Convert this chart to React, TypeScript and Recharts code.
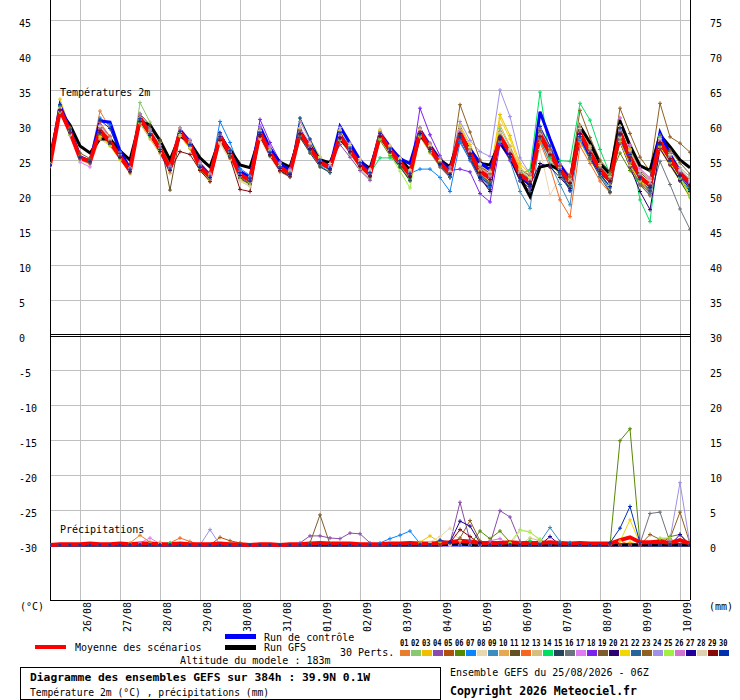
import { LineChart, Line, XAxis, YAxis, CartesianGrid, ReferenceLine } from "recharts"

// forecast steps (hours after 25/08 06Z)
const HOURS = [0, 6, 12, 18, 24, 30, 36, 42, 48, 54, 60, 66, 72, 78, 84, 90, 96, 102, 108, 114, 120, 126, 132, 138, 144, 150, 156, 162, 168, 174, 180, 186, 192, 198, 204, 210, 216, 222, 228, 234, 240, 246, 252, 258, 264, 270, 276, 282, 288, 294, 300, 306, 312, 318, 324, 330, 336, 342, 348, 354, 360, 366, 372, 378, 384]
const DATE_TICKS = [18, 42, 66, 90, 114, 138, 162, 186, 210, 234, 258, 282, 306, 330, 354, 378]
const DATES = ["26/08", "27/08", "28/08", "29/08", "30/08", "31/08", "01/09", "02/09", "03/09", "04/09", "05/09", "06/09", "07/09", "08/09", "09/09", "10/09"]
const LEFT_TICKS = [-30, -25, -20, -15, -10, -5, 0, 5, 10, 15, 20, 25, 30, 35, 40, 45]
const RIGHT_TICKS = [0, 5, 10, 15, 20, 25, 30, 35, 40, 45, 50, 55, 60, 65, 70, 75]
const GRID_VALUES = [-30, -25, -20, -15, -10, -5, 5, 10, 15, 20, 25, 30, 35, 40, 45]

const PERT_COLORS = ["#e87d2e", "#88c86e", "#f0c000", "#8a4caa", "#b0500a", "#568800", "#0a84ff", "#e8d8b0", "#3c8cc0", "#e8a850", "#645020", "#f8661e", "#d4c07c", "#00e060", "#24445c", "#6c747c", "#e07cf0", "#7c20f0", "#7c5c2c", "#2c0070", "#f0d800", "#28649c", "#906020", "#a090e8", "#a0f040", "#d474d0", "#200098", "#e0d0b0", "#880808", "#0030b0"]

// temperature 2m (°C)
const T_MEAN = [24.3, 32.2, 29.0, 25.3, 24.8, 29.2, 27.6, 25.5, 23.5, 31.0, 28.8, 26.6, 23.8, 29.0, 27.2, 24.0, 22.6, 28.4, 26.0, 22.9, 22.1, 28.9, 26.0, 23.9, 23.1, 28.9, 26.7, 24.7, 23.9, 28.4, 26.4, 24.3, 22.9, 28.6, 26.4, 24.7, 22.9, 29.0, 26.7, 24.6, 23.1, 28.9, 26.0, 23.4, 22.4, 28.4, 26.0, 22.9, 21.9, 28.6, 26.0, 23.6, 21.9, 28.9, 26.1, 23.6, 22.1, 28.9, 25.4, 22.6, 21.4, 27.6, 25.3, 23.1, 21.7]
const T_GFS = [25.4, 32.0, 30.0, 27.0, 26.0, 28.0, 28.0, 26.3, 25.0, 30.5, 30.0, 27.8, 25.0, 28.5, 27.5, 25.3, 24.0, 28.0, 26.5, 24.3, 23.9, 28.5, 26.5, 24.7, 24.0, 28.5, 27.0, 25.0, 24.6, 28.0, 26.5, 24.8, 23.8, 28.3, 26.5, 25.3, 23.5, 28.5, 27.0, 25.0, 24.0, 28.5, 26.5, 24.5, 24.3, 27.5, 25.5, 22.5, 19.8, 24.0, 24.3, 23.5, 22.0, 29.8, 27.5, 24.5, 23.0, 30.5, 27.1, 24.2, 23.5, 28.6, 26.9, 25.0, 23.9]
const T_CTRL = [24.4, 32.8, 29.4, 25.5, 24.8, 30.6, 30.4, 26.3, 23.8, 31.0, 28.9, 26.4, 23.6, 29.3, 27.5, 24.3, 22.8, 28.6, 26.2, 23.4, 22.5, 29.7, 26.7, 24.5, 23.5, 29.1, 26.9, 24.9, 24.0, 29.8, 27.4, 25.0, 23.4, 28.8, 26.9, 25.2, 24.5, 29.3, 27.0, 24.9, 23.6, 28.6, 26.5, 24.6, 23.6, 28.0, 25.5, 22.8, 21.5, 31.9, 28.0, 24.4, 22.0, 28.5, 25.7, 23.3, 22.0, 28.6, 25.2, 22.5, 21.5, 28.9, 25.8, 23.3, 21.4]

const T01 = [24.2, 32.5, 29.3, 25.6, 24.9, 32.0, 29.5, 26.0, 23.2, 31.5, 29.2, 26.8, 23.5, 29.6, 27.5, 24.3, 22.8, 28.0, 25.6, 22.5, 21.6, 29.3, 26.4, 24.1, 23.0, 29.4, 27.0, 24.9, 24.2, 28.8, 26.8, 24.5, 22.5, 28.0, 25.9, 24.2, 22.3, 29.5, 27.3, 25.1, 23.6, 29.6, 26.8, 24.0, 22.8, 27.6, 25.2, 22.1, 21.0, 27.9, 25.4, 22.8, 20.9, 29.6, 26.9, 24.4, 22.9, 28.2, 24.6, 21.8, 20.6, 26.8, 24.4, 22.0, 20.3]
const T02 = [24.4, 32.0, 28.7, 25.0, 24.6, 28.6, 27.0, 25.2, 23.4, 33.2, 30.4, 27.5, 24.2, 28.6, 26.8, 23.7, 22.3, 28.8, 26.4, 23.3, 22.6, 28.2, 25.5, 23.4, 22.5, 28.5, 26.3, 24.4, 23.5, 27.8, 25.9, 23.8, 22.3, 29.3, 27.0, 25.2, 23.5, 28.3, 26.1, 24.0, 22.5, 29.7, 26.9, 24.5, 23.3, 29.5, 26.9, 23.8, 22.7, 27.5, 25.1, 22.7, 21.0, 28.0, 25.3, 22.8, 21.3, 29.8, 26.5, 23.7, 22.5, 28.5, 26.1, 23.9, 22.6]
const T03 = [24.2, 33.7, 29.6, 25.5, 24.7, 29.8, 27.9, 25.6, 23.3, 30.5, 28.2, 26.0, 23.3, 29.3, 27.5, 24.4, 22.9, 28.7, 26.4, 23.1, 22.3, 29.5, 26.6, 24.4, 23.5, 28.2, 26.0, 24.1, 23.3, 28.9, 26.9, 24.8, 23.4, 28.9, 26.7, 25.0, 23.2, 28.4, 26.0, 24.0, 22.6, 30.0, 27.2, 24.3, 23.1, 31.5, 28.5, 24.5, 23.0, 29.6, 27.0, 24.4, 22.6, 27.6, 25.0, 22.7, 21.0, 29.8, 26.6, 23.6, 22.3, 26.5, 24.2, 22.0, 19.6]
const T04 = [24.5, 32.4, 28.8, 25.1, 24.6, 30.0, 28.4, 26.0, 23.9, 30.6, 28.5, 26.2, 23.6, 28.4, 26.7, 23.6, 22.3, 27.8, 25.5, 22.4, 21.5, 28.3, 25.6, 23.3, 22.6, 29.6, 27.4, 25.3, 24.4, 27.2, 25.4, 23.5, 22.1, 29.2, 27.0, 25.1, 23.4, 28.5, 26.2, 24.0, 22.5, 27.8, 24.9, 22.1, 21.1, 29.0, 26.5, 23.3, 22.5, 29.5, 26.9, 24.4, 22.8, 28.0, 25.3, 22.9, 21.2, 28.0, 24.5, 21.7, 20.2, 27.0, 24.5, 22.2, 20.6]
const T05 = [24.1, 32.1, 28.9, 25.4, 24.9, 28.8, 27.3, 25.4, 23.5, 30.6, 28.6, 26.7, 24.0, 29.5, 27.8, 24.6, 23.1, 28.6, 26.2, 23.3, 22.4, 28.5, 25.8, 23.5, 22.9, 29.3, 27.1, 25.0, 24.0, 28.1, 26.1, 24.0, 22.8, 28.3, 26.1, 24.3, 22.5, 29.6, 27.4, 25.3, 23.7, 28.5, 25.6, 22.9, 21.8, 27.8, 25.5, 22.4, 21.2, 29.0, 26.5, 24.1, 22.4, 29.4, 26.6, 24.0, 22.6, 27.6, 24.2, 21.4, 20.0, 28.2, 25.8, 23.6, 22.2]
const T06 = [24.3, 31.8, 28.7, 25.2, 24.6, 29.3, 27.7, 25.7, 23.7, 31.2, 29.0, 26.5, 23.6, 28.8, 27.0, 23.9, 22.3, 28.2, 25.9, 22.7, 21.9, 29.0, 26.2, 23.7, 22.8, 28.7, 26.5, 24.5, 23.6, 28.6, 26.5, 24.2, 22.7, 27.8, 25.6, 24.0, 22.0, 29.2, 26.9, 24.7, 23.4, 28.2, 25.3, 22.8, 21.7, 28.7, 26.4, 23.3, 22.3, 28.0, 25.5, 23.0, 21.0, 29.2, 26.5, 24.1, 22.6, 26.0, 23.5, 21.5, 20.5, 27.0, 24.8, 22.6, 21.2]
const T07 = [24.4, 32.8, 29.4, 25.4, 24.9, 31.0, 30.0, 26.2, 23.8, 30.8, 28.7, 26.3, 23.9, 29.2, 27.4, 24.3, 22.8, 30.5, 27.5, 23.8, 22.8, 29.1, 26.3, 24.1, 23.2, 28.6, 26.4, 24.2, 23.2, 29.0, 27.0, 24.8, 23.5, 28.7, 26.6, 24.8, 23.1, 23.7, 23.7, 22.5, 20.5, 27.5, 25.0, 22.6, 21.2, 28.8, 26.2, 23.2, 22.3, 28.3, 25.6, 23.2, 21.7, 27.8, 25.1, 22.9, 21.2, 28.5, 25.0, 22.0, 20.8, 28.0, 25.7, 23.4, 21.5]
const T08 = [24.2, 32.0, 28.8, 25.0, 24.3, 28.0, 27.0, 25.3, 23.0, 30.5, 28.3, 26.0, 23.2, 28.8, 27.1, 24.0, 22.3, 27.3, 25.0, 22.0, 21.2, 28.0, 25.4, 23.2, 22.6, 29.0, 26.9, 24.9, 24.0, 29.6, 27.4, 25.2, 23.7, 29.0, 26.7, 25.1, 23.2, 28.8, 26.6, 24.5, 23.0, 29.3, 26.7, 24.4, 23.2, 28.2, 25.8, 23.0, 22.0, 26.5, 20.0, 22.5, 21.5, 28.4, 25.6, 23.1, 21.4, 28.7, 25.2, 22.3, 21.2, 27.2, 24.9, 22.8, 21.4]
const T09 = [24.3, 32.3, 29.1, 25.3, 24.8, 29.4, 27.5, 25.5, 23.4, 31.3, 29.0, 26.8, 23.9, 29.1, 27.3, 24.1, 22.7, 28.3, 25.8, 22.7, 21.8, 29.2, 26.3, 24.2, 23.3, 28.4, 26.2, 24.3, 23.6, 28.5, 26.6, 24.4, 23.0, 28.2, 26.0, 24.5, 22.8, 29.3, 27.0, 24.9, 23.2, 29.0, 25.8, 22.7, 21.5, 27.5, 24.9, 20.5, 18.1, 28.0, 24.5, 21.5, 18.6, 28.6, 25.8, 23.2, 20.5, 28.0, 24.8, 21.7, 20.3, 27.3, 25.0, 22.5, 20.5]
const T10 = [24.3, 32.2, 28.9, 25.2, 24.4, 29.6, 27.8, 25.6, 23.6, 30.2, 28.0, 25.9, 23.1, 29.5, 27.6, 24.5, 23.0, 28.5, 26.1, 23.0, 22.2, 28.8, 25.9, 23.8, 23.0, 29.5, 27.3, 25.3, 24.5, 28.0, 26.0, 23.9, 22.6, 28.8, 26.6, 24.8, 23.1, 29.2, 27.0, 24.8, 23.1, 28.5, 25.6, 23.0, 22.0, 30.0, 27.0, 23.8, 22.8, 29.2, 26.6, 24.0, 22.4, 28.8, 26.0, 23.6, 22.0, 28.2, 24.9, 22.0, 20.9, 28.0, 25.6, 23.4, 21.9]
const T11 = [24.4, 32.0, 29.2, 25.5, 25.0, 28.7, 27.4, 25.5, 23.4, 31.6, 30.0, 27.9, 20.7, 28.5, 26.7, 23.5, 22.0, 28.1, 25.7, 22.6, 21.8, 29.5, 26.6, 24.4, 23.6, 28.9, 26.7, 24.7, 23.8, 28.3, 26.3, 24.2, 22.8, 28.5, 26.4, 24.5, 22.7, 28.6, 26.4, 24.3, 22.8, 29.2, 26.3, 23.7, 22.6, 28.1, 25.6, 22.6, 21.6, 28.8, 26.2, 23.8, 22.1, 29.1, 26.3, 23.8, 22.4, 29.5, 26.0, 23.2, 22.0, 27.9, 25.5, 23.4, 22.0]
const T12 = [24.2, 32.3, 28.9, 25.2, 24.6, 30.4, 28.3, 25.9, 23.7, 30.9, 28.8, 26.6, 23.9, 29.0, 27.1, 23.9, 22.5, 28.3, 25.9, 22.8, 22.0, 29.0, 26.1, 24.0, 23.2, 28.8, 26.6, 24.6, 23.7, 28.4, 26.3, 24.3, 23.0, 28.5, 26.3, 24.6, 22.8, 29.1, 26.8, 24.6, 23.2, 28.7, 25.8, 23.2, 22.2, 28.0, 25.7, 22.7, 21.6, 27.5, 24.0, 19.3, 16.9, 27.0, 24.5, 22.0, 20.3, 28.6, 25.1, 22.3, 21.0, 27.4, 25.1, 22.9, 21.4]
const T13 = [24.3, 31.9, 28.7, 25.1, 24.5, 29.0, 27.5, 25.4, 23.6, 30.8, 28.7, 26.5, 23.7, 29.3, 27.4, 24.2, 22.7, 28.6, 26.2, 23.1, 22.3, 28.6, 25.8, 23.7, 22.9, 29.1, 26.9, 24.9, 24.1, 28.2, 26.2, 24.1, 22.7, 28.9, 26.8, 25.0, 23.1, 28.9, 26.5, 24.4, 23.0, 29.4, 26.6, 24.0, 23.0, 28.8, 26.4, 23.4, 22.4, 29.0, 26.4, 24.0, 22.3, 30.0, 27.0, 24.5, 23.0, 29.3, 25.8, 22.9, 21.6, 28.4, 25.9, 23.6, 22.2]
const T14 = [24.4, 32.6, 29.1, 25.4, 24.8, 29.1, 27.6, 25.5, 23.5, 30.4, 28.4, 26.3, 23.8, 28.9, 27.1, 23.9, 22.5, 28.4, 26.1, 23.0, 22.2, 28.7, 25.9, 23.8, 23.0, 28.8, 26.7, 24.6, 23.7, 28.6, 26.5, 24.5, 23.1, 25.3, 25.3, 24.3, 22.4, 28.8, 26.5, 24.4, 22.8, 29.1, 26.2, 23.6, 22.8, 28.2, 25.6, 23.0, 23.6, 34.7, 25.3, 24.9, 24.8, 33.1, 30.7, 26.5, 23.0, 29.0, 27.0, 19.3, 16.2, 28.3, 25.6, 23.0, 20.6]
const T15 = [24.3, 32.2, 29.0, 25.3, 24.7, 28.9, 27.2, 25.2, 23.2, 31.0, 28.7, 26.4, 23.5, 28.6, 26.8, 23.6, 22.1, 27.9, 25.5, 22.3, 21.5, 28.4, 25.6, 23.4, 22.6, 28.2, 26.0, 24.0, 23.2, 28.1, 26.1, 24.0, 22.6, 28.1, 25.8, 24.0, 22.1, 28.7, 26.4, 24.2, 22.6, 28.3, 25.2, 22.4, 20.8, 28.0, 25.5, 22.5, 21.2, 28.2, 25.7, 23.2, 21.3, 28.3, 25.3, 22.6, 20.4, 28.7, 25.1, 22.2, 20.6, 27.2, 24.8, 22.0, 19.8]
const T16 = [24.2, 32.0, 28.8, 25.1, 24.5, 29.2, 27.6, 25.5, 23.6, 30.9, 28.8, 26.6, 23.8, 29.2, 27.3, 24.1, 22.6, 28.4, 26.0, 22.9, 22.0, 28.9, 26.1, 23.9, 23.0, 28.5, 26.3, 24.4, 23.5, 28.0, 26.0, 24.0, 22.6, 28.7, 26.4, 24.6, 22.9, 29.1, 26.8, 24.7, 23.1, 28.4, 25.5, 22.8, 21.6, 28.0, 25.8, 22.8, 21.8, 28.2, 25.8, 23.4, 21.8, 28.5, 25.8, 23.3, 21.8, 27.8, 24.5, 21.5, 19.9, 24.8, 21.5, 18.0, 15.1]
const T17 = [24.1, 32.0, 28.5, 24.7, 24.0, 29.5, 27.9, 25.7, 23.7, 31.4, 29.1, 26.7, 23.9, 29.2, 27.4, 24.2, 22.7, 28.5, 26.2, 23.1, 22.3, 29.9, 27.0, 24.6, 23.6, 29.0, 26.9, 24.8, 24.0, 28.7, 26.6, 24.5, 23.1, 28.4, 26.3, 24.5, 22.7, 29.0, 26.6, 24.5, 23.0, 29.2, 26.4, 24.0, 22.7, 28.6, 26.3, 23.2, 22.1, 29.4, 26.8, 24.4, 22.8, 28.7, 26.0, 23.5, 22.0, 31.0, 27.2, 23.8, 22.4, 27.8, 25.4, 23.3, 21.8]
const T18 = [24.3, 32.4, 29.0, 25.4, 24.8, 29.0, 27.6, 25.5, 23.4, 31.2, 29.0, 26.7, 23.7, 29.0, 27.1, 23.9, 22.4, 28.0, 25.7, 22.5, 21.7, 30.8, 27.5, 24.8, 23.8, 29.2, 26.9, 24.8, 23.8, 28.6, 26.5, 24.2, 22.8, 29.0, 26.8, 24.9, 23.1, 32.4, 28.6, 25.6, 23.5, 23.7, 23.3, 20.2, 19.0, 27.2, 25.0, 22.0, 21.0, 28.5, 25.9, 23.5, 21.8, 28.6, 25.9, 23.4, 21.9, 28.4, 25.0, 22.2, 21.0, 28.2, 25.9, 23.6, 22.0]
const T19 = [24.3, 32.1, 29.6, 26.0, 25.2, 29.6, 28.0, 25.9, 23.8, 31.2, 29.5, 27.6, 24.2, 29.0, 27.2, 24.0, 22.5, 28.2, 25.9, 22.8, 22.0, 28.8, 26.0, 23.8, 23.0, 29.2, 27.0, 25.0, 24.2, 28.4, 26.4, 24.3, 22.9, 28.3, 26.2, 24.5, 22.6, 29.4, 27.1, 25.0, 23.4, 29.5, 26.6, 24.1, 23.1, 28.5, 26.1, 23.1, 22.0, 29.2, 26.5, 24.2, 22.6, 29.3, 26.6, 24.2, 22.8, 29.5, 26.3, 23.5, 22.1, 28.5, 26.4, 24.6, 23.0]
const T20 = [24.3, 32.0, 28.8, 25.2, 24.6, 29.1, 27.5, 25.4, 23.4, 30.7, 28.5, 26.3, 23.6, 28.7, 26.9, 23.8, 22.3, 28.2, 25.8, 22.6, 21.8, 28.6, 25.8, 23.7, 22.9, 28.9, 26.7, 24.6, 23.7, 28.3, 26.3, 24.2, 22.7, 28.4, 26.2, 24.5, 22.6, 28.8, 26.5, 24.4, 22.9, 28.5, 25.7, 22.5, 20.5, 28.0, 25.4, 22.5, 21.5, 24.5, 24.0, 22.5, 20.9, 29.1, 26.2, 23.7, 22.2, 27.5, 24.0, 20.5, 17.9, 26.6, 24.3, 22.1, 20.5]
const T21 = [24.4, 32.5, 29.2, 25.3, 24.6, 28.3, 27.0, 25.0, 23.2, 30.7, 28.6, 26.4, 23.6, 28.4, 26.6, 23.5, 22.1, 27.6, 25.3, 22.2, 21.4, 28.9, 26.0, 23.8, 23.0, 28.7, 26.5, 24.5, 23.6, 29.2, 27.1, 24.8, 23.4, 29.2, 27.0, 25.2, 23.3, 29.4, 27.1, 24.9, 23.3, 29.0, 26.2, 23.5, 22.3, 31.0, 28.0, 24.0, 22.6, 28.8, 26.3, 23.9, 22.0, 28.2, 25.5, 22.9, 21.4, 27.6, 24.2, 22.0, 21.0, 26.9, 24.6, 22.5, 20.2]
const T22 = [24.3, 32.2, 29.0, 25.3, 24.7, 29.3, 27.6, 25.5, 23.5, 30.6, 28.6, 26.4, 23.8, 29.1, 27.3, 24.1, 22.6, 28.7, 26.3, 23.2, 22.4, 29.0, 26.2, 24.0, 23.2, 28.6, 26.4, 24.5, 23.7, 28.5, 26.5, 24.4, 23.1, 28.7, 26.5, 24.8, 23.0, 28.6, 26.3, 24.3, 22.5, 28.8, 25.9, 23.0, 21.7, 28.3, 25.3, 22.0, 20.5, 28.9, 25.8, 23.0, 20.6, 28.4, 25.6, 23.0, 21.2, 28.6, 25.3, 22.5, 21.2, 27.5, 25.2, 23.0, 21.6]
const T23 = [24.3, 32.3, 29.1, 25.4, 24.8, 29.3, 27.7, 25.6, 23.6, 31.1, 28.9, 26.7, 23.9, 29.1, 27.3, 24.1, 22.7, 28.5, 26.1, 23.0, 22.2, 29.0, 26.1, 24.0, 23.2, 29.0, 26.8, 24.8, 24.0, 28.5, 26.5, 24.4, 23.0, 28.7, 26.5, 24.8, 23.0, 29.1, 26.8, 24.7, 23.2, 32.9, 29.0, 25.0, 23.6, 28.6, 26.2, 23.5, 22.8, 28.8, 26.4, 24.1, 22.7, 32.1, 28.2, 25.0, 23.3, 32.4, 28.8, 25.4, 23.4, 33.1, 28.3, 27.4, 26.1]
const T24 = [24.2, 32.1, 28.9, 25.2, 24.5, 29.9, 28.1, 25.9, 23.9, 31.6, 29.4, 27.1, 24.1, 29.6, 27.9, 24.7, 23.1, 28.8, 26.5, 23.4, 22.6, 29.6, 26.8, 24.6, 23.7, 28.9, 26.8, 24.9, 24.1, 28.9, 26.8, 24.6, 23.2, 28.8, 26.7, 24.9, 23.2, 29.6, 27.4, 25.4, 24.0, 30.5, 27.8, 26.2, 25.5, 35.0, 31.2, 25.3, 23.0, 28.5, 26.0, 23.6, 21.8, 29.0, 26.2, 23.7, 22.2, 29.2, 25.8, 23.0, 21.6, 27.9, 25.6, 23.5, 21.8]
const T25 = [24.3, 31.9, 28.6, 25.0, 24.5, 29.1, 27.4, 25.3, 23.3, 30.9, 28.6, 26.4, 23.6, 28.9, 27.0, 23.8, 22.4, 28.2, 25.8, 22.6, 21.8, 28.8, 25.8, 23.6, 22.8, 30.9, 28.0, 25.5, 23.9, 28.5, 26.2, 24.0, 22.6, 28.0, 25.8, 23.4, 21.0, 28.6, 26.4, 24.3, 22.8, 28.6, 25.8, 23.2, 22.2, 28.6, 26.2, 23.1, 22.2, 28.4, 25.8, 23.4, 21.5, 28.5, 25.9, 23.5, 21.9, 28.3, 25.1, 22.3, 21.1, 27.6, 25.0, 22.4, 19.8]
const T26 = [24.3, 32.0, 28.8, 25.1, 24.5, 29.2, 27.6, 25.4, 23.5, 31.0, 28.7, 26.5, 23.8, 29.1, 27.3, 24.0, 22.6, 28.5, 26.0, 22.9, 22.1, 28.9, 26.0, 23.9, 23.1, 30.5, 27.8, 25.3, 24.2, 28.4, 26.4, 24.3, 22.9, 28.6, 26.5, 24.7, 23.0, 28.9, 26.6, 24.5, 23.1, 28.9, 26.0, 23.4, 22.4, 28.5, 26.1, 23.0, 22.0, 28.7, 26.1, 23.7, 22.0, 28.9, 26.1, 23.6, 22.1, 31.0, 27.0, 23.5, 22.0, 27.7, 25.3, 23.1, 21.6]
const T27 = [24.2, 32.1, 28.9, 25.2, 24.6, 29.0, 27.4, 25.4, 23.3, 30.9, 28.8, 26.6, 23.8, 28.8, 27.0, 23.9, 22.5, 28.3, 25.9, 22.8, 22.0, 28.7, 25.8, 23.8, 22.9, 28.8, 26.6, 24.6, 23.8, 28.2, 26.2, 24.1, 22.7, 28.4, 26.2, 24.5, 22.7, 28.8, 26.5, 24.4, 22.9, 28.8, 25.9, 23.2, 22.2, 28.2, 25.8, 22.7, 21.6, 28.4, 25.9, 23.4, 21.6, 28.7, 25.9, 23.4, 21.9, 28.6, 25.0, 22.3, 21.1, 27.4, 25.0, 22.8, 21.3]
const T28 = [24.4, 32.4, 29.1, 25.3, 24.7, 29.8, 28.0, 25.8, 23.8, 31.0, 28.9, 26.6, 23.8, 28.6, 26.8, 23.5, 22.0, 27.5, 25.1, 22.0, 21.2, 29.2, 26.4, 24.2, 23.4, 29.6, 27.4, 25.3, 24.5, 29.3, 27.1, 25.0, 23.5, 29.4, 27.1, 25.3, 23.6, 29.3, 27.0, 24.9, 23.4, 29.6, 26.8, 24.3, 23.4, 28.9, 26.6, 23.6, 22.5, 28.6, 26.0, 23.5, 22.0, 29.5, 26.7, 24.2, 22.6, 29.8, 26.3, 23.4, 22.1, 28.1, 25.8, 23.6, 22.0]
const T29 = [24.3, 32.2, 29.0, 25.3, 24.7, 29.2, 27.6, 25.4, 23.4, 30.5, 28.5, 26.2, 23.5, 26.2, 25.8, 23.5, 21.9, 27.8, 25.3, 20.8, 20.5, 28.4, 25.7, 23.5, 22.7, 28.7, 26.5, 24.5, 23.6, 28.2, 26.2, 24.1, 22.7, 28.4, 26.2, 24.5, 22.7, 29.0, 26.7, 24.5, 23.0, 28.6, 25.8, 23.2, 22.2, 28.4, 25.9, 22.9, 21.9, 28.4, 25.8, 23.5, 21.8, 28.8, 26.0, 23.6, 22.1, 28.8, 25.3, 22.5, 21.3, 27.5, 25.2, 23.0, 21.5]
const T30 = [24.3, 32.9, 29.3, 25.4, 24.8, 30.7, 29.5, 25.9, 23.7, 30.9, 28.7, 26.5, 23.7, 29.1, 27.2, 24.0, 22.5, 28.9, 26.4, 23.2, 22.4, 28.9, 26.1, 24.0, 23.1, 31.0, 28.0, 25.0, 23.8, 28.9, 26.7, 24.6, 23.2, 28.8, 26.6, 24.9, 23.1, 28.7, 26.5, 24.3, 22.9, 28.3, 25.5, 22.6, 21.4, 28.2, 25.4, 22.4, 21.3, 29.8, 27.0, 23.5, 20.6, 28.3, 25.6, 23.0, 21.2, 29.6, 25.8, 22.5, 21.0, 27.2, 24.9, 22.6, 20.9]

// precipitation (mm), [step index, amount]; steps not listed are dry
const P_MEAN = [0, 0.1, 0.1, 0.1, 0.2, 0.1, 0.1, 0.2, 0.1, 0.2, 0.2, 0.1, 0.1, 0.2, 0.1, 0.1, 0.1, 0.2, 0.1, 0.1, 0, 0.1, 0.1, 0, 0.1, 0.1, 0.2, 0.3, 0.2, 0.2, 0.2, 0.1, 0.1, 0.1, 0.2, 0.2, 0.3, 0.2, 0.2, 0.3, 0.4, 0.6, 0.5, 0.3, 0.3, 0.3, 0.4, 0.3, 0.3, 0.3, 0.4, 0.3, 0.2, 0.3, 0.2, 0.2, 0.2, 0.7, 1.1, 0.4, 0.4, 0.5, 0.3, 0.7, 0.2]
const P_GFS: [number, number][] = [[40, 0.2], [41, 0.3]]
const P_CTRL: [number, number][] = []
const P01: [number, number][] = [[8, 0.3], [9, 1.4], [10, 0.4]]
const P02: [number, number][] = [[47, 0.5], [49, 0.8]]
const P03: [number, number][] = [[37, 0.4], [38, 1.3], [39, 0.4], [58, 0.4]]
const P04: [number, number][] = [[25, 0.3], [26, 1.3], [27, 1.3], [28, 1.0], [29, 0.9], [30, 1.7], [31, 1.6], [32, 0.3], [40, 0.3], [41, 6.1], [42, 0.6], [44, 0.2], [45, 4.9], [46, 4.0], [47, 0.5]]
const P05: [number, number][] = [[17, 1.1], [18, 0.6], [19, 0.3]]
const P06: [number, number][] = [[43, 2.0], [44, 0.9], [45, 2.0], [46, 0.4], [57, 14.9], [58, 16.6], [59, 0.2], [62, 1.2], [63, 1.5]]
const P07: [number, number][] = [[33, 0.3], [34, 0.9], [35, 1.4], [36, 2.0], [37, 0.2], [52, 0.3]]
const P08: [number, number][] = [[38, 0.4], [39, 1.2], [40, 2.4], [41, 0.6], [47, 2.0], [48, 2.0], [49, 0.5]]
const P09: [number, number][] = [[49, 0.4], [50, 2.5], [51, 0.5]]
const P10: [number, number][] = [[11, 0.4]]
const P11: [number, number][] = []
const P12: [number, number][] = [[12, 0.3], [13, 1.0], [14, 0.5], [57, 0.6]]
const P13: [number, number][] = [[48, 1.0], [49, 0.6]]
const P14: [number, number][] = [[12, 0.3], [48, 0.6]]
const P15: [number, number][] = []
const P16: [number, number][] = [[59, 0.2], [60, 4.5], [61, 4.7], [62, 0.4]]
const P17: [number, number][] = [[9, 0.3], [10, 1.0], [11, 0.2]]
const P18: [number, number][] = []
const P19: [number, number][] = [[26, 0.3], [27, 4.3], [28, 0.1]]
const P20: [number, number][] = []
const P21: [number, number][] = [[57, 0.5], [58, 3.6], [59, 0.2]]
const P22: [number, number][] = [[51, 0.4], [52, 0.3]]
const P23: [number, number][] = [[41, 1.0], [42, 3.5], [43, 0.6], [60, 1.5], [61, 0.8], [62, 0.9], [63, 4.7], [64, 0.2]]
const P24: [number, number][] = [[16, 2.2], [62, 0.8], [63, 8.9]]
const P25: [number, number][] = [[46, 0.3], [47, 2.2], [48, 1.8], [49, 0.8], [61, 1.0], [62, 1.0]]
const P26: [number, number][] = [[44, 0.6], [45, 0.9]]
const P27: [number, number][] = [[40, 0.4], [41, 3.4], [42, 2.7], [43, 0.3], [50, 1.2], [63, 1.5]]
const P28: [number, number][] = []
const P29: [number, number][] = [[40, 0.3], [41, 2.2], [42, 1.2], [43, 0.2]]
const P30: [number, number][] = [[39, 0.7], [40, 0.4], [56, 0.3], [57, 2.4], [58, 5.5], [59, 0.3]]

const T_PERTS = [T01, T02, T03, T04, T05, T06, T07, T08, T09, T10, T11, T12, T13, T14, T15, T16, T17, T18, T19, T20, T21, T22, T23, T24, T25, T26, T27, T28, T29, T30]
const P_PERTS = [P01, P02, P03, P04, P05, P06, P07, P08, P09, P10, P11, P12, P13, P14, P15, P16, P17, P18, P19, P20, P21, P22, P23, P24, P25, P26, P27, P28, P29, P30]

// precipitation shares the left axis, 0 mm sits on -30
const PRECIP_BASE = -30
const rain = (list: [number, number][], i: number) => {
  const hit = list.find(([j]) => j === i)
  return (hit ? hit[1] : 0) + PRECIP_BASE
}

const rows = HOURS.map((h, i) => {
  const r: Record<string, number> = {
    h,
    tm: T_MEAN[i], tg: T_GFS[i], tc: T_CTRL[i],
    pm: P_MEAN[i] + PRECIP_BASE, pg: rain(P_GFS, i), pc: rain(P_CTRL, i),
  }
  T_PERTS.forEach((s, k) => { r[`t${k}`] = s[i] })
  P_PERTS.forEach((s, k) => { r[`p${k}`] = rain(s, i) })
  return r
})

const FONT = "'DejaVu Sans Mono', monospace"

const Plus = (p: any) => {
  const k = `${p.dataKey}-${p.index}`
  if (p.cx == null || p.cy == null) return <g key={k} />
  return <path key={k} d={`M${p.cx - 2},${p.cy}h4M${p.cx},${p.cy - 2}v4`} stroke={p.stroke} strokeWidth={1} fill="none" />
}

const LeftTick = (p: any) => (
  <text x={19} y={p.y + 3} dominantBaseline="central" fontSize={10} fontFamily={FONT} fill="#000">{p.payload.value}</text>
)
const RightTick = (p: any) => (
  <text x={710} y={p.y + 3} dominantBaseline="central" fontSize={10} fontFamily={FONT} fill="#000">{p.payload.value}</text>
)
const DateTick = (p: any) => {
  const x = p.x + 7
  const y = 602
  return (
    <text x={x} y={y} transform={`rotate(-90, ${x}, ${y})`} textAnchor="end" dominantBaseline="central" fontSize={10} fontFamily={FONT} fill="#000">
      {DATES[DATE_TICKS.indexOf(p.payload.value)]}
    </text>
  )
}

const crisp = { stroke: "#000", shapeRendering: "crispEdges" } as any

export default function App() {
  const txt = { fontFamily: FONT, fill: "#000" }
  return (
    <div style={{ position: "absolute", left: 0, top: 0, width: 740, height: 700, background: "#fff" }}>
      <LineChart width={740} height={700} data={rows} margin={{ top: 0, right: 0, bottom: 0, left: 0 }}>
        <CartesianGrid stroke="#c0c0c0" strokeWidth={1} shapeRendering="crispEdges" horizontalValues={GRID_VALUES} />
        <XAxis dataKey="h" type="number" domain={[0, 384]} ticks={DATE_TICKS} interval={0} height={100}
          tick={DateTick} tickLine={false} axisLine={crisp} allowDataOverflow />
        <YAxis type="number" domain={[-265 / 7, 335 / 7]} ticks={LEFT_TICKS} interval={0} width={50}
          tick={LeftTick} tickLine={false} axisLine={crisp} allowDataOverflow />
        <YAxis yAxisId="r" orientation="right" type="number" domain={[-265 / 7 + 30, 335 / 7 + 30]} ticks={RIGHT_TICKS} interval={0} width={50}
          tick={RightTick} tickLine={false} axisLine={crisp} allowDataOverflow />
        <ReferenceLine y={0.5 / 7} stroke="#000" strokeWidth={1} shapeRendering="crispEdges" />
        <ReferenceLine y={-1.5 / 7} stroke="#000" strokeWidth={1} shapeRendering="crispEdges" />
        {PERT_COLORS.map((c, k) => (
          <Line key={`p${k}`} dataKey={`p${k}`} stroke={c} strokeWidth={1} dot={Plus} isAnimationActive={false} />
        ))}
        {PERT_COLORS.map((c, k) => (
          <Line key={`t${k}`} dataKey={`t${k}`} stroke={c} strokeWidth={1} dot={Plus} isAnimationActive={false} />
        ))}
        <Line dataKey="pc" stroke="#0000ff" strokeWidth={3} dot={false} isAnimationActive={false} />
        <Line dataKey="pg" stroke="#000" strokeWidth={3} dot={false} isAnimationActive={false} />
        <Line dataKey="tg" stroke="#000" strokeWidth={3} dot={false} isAnimationActive={false} />
        <Line dataKey="tc" stroke="#0000ff" strokeWidth={3} dot={false} isAnimationActive={false} />
        <Line dataKey="pm" stroke="#ff0000" strokeWidth={4} dot={false} isAnimationActive={false} />
        <Line dataKey="tm" stroke="#ff0000" strokeWidth={4} dot={false} isAnimationActive={false} />
      </LineChart>
      <svg width={740} height={700} style={{ position: "absolute", left: 0, top: 0, pointerEvents: "none" }}>
        <text x={60} y={92} dominantBaseline="central" fontSize={10} {...txt}>Températures 2m</text>
        <text x={60} y={529} dominantBaseline="central" fontSize={10} {...txt}>Précipitations</text>
        <text x={20} y={606} dominantBaseline="central" fontSize={10} {...txt}>(°C)</text>
        <text x={709} y={606} dominantBaseline="central" fontSize={10} {...txt}>(mm)</text>

        <rect x={35} y={645} width={31} height={4} fill="#ff0000" />
        <text x={75} y={647} dominantBaseline="central" fontSize={10} {...txt}>Moyenne des scénarios</text>
        <rect x={225} y={634} width={31} height={5} fill="#0000ff" />
        <text x={264} y={637} dominantBaseline="central" fontSize={10} {...txt}>Run de contrôle</text>
        <rect x={225} y={645} width={31} height={5} fill="#000" />
        <text x={264} y={647} dominantBaseline="central" fontSize={10} {...txt}>Run GFS</text>
        <text x={180} y={660} dominantBaseline="central" fontSize={10} {...txt}>Altitude du modele : 183m</text>
        <text x={340} y={652} dominantBaseline="central" fontSize={10} {...txt}>30 Perts.</text>
        {PERT_COLORS.map((c, k) => (
          <g key={k}>
            <text x={400 + 11 * k} y={643.5} dominantBaseline="central" fontSize={8} fontWeight="bold"
              textLength={8.5} lengthAdjust="spacingAndGlyphs" {...txt}>{String(k + 1).padStart(2, "0")}</text>
            <rect x={400 + 11 * k} y={650} width={10} height={6} fill={c} />
          </g>
        ))}

        <rect x={20.5} y={667.5} width={420} height={32} fill="none" stroke="#000" strokeWidth={1} />
        <text x={30} y={677} dominantBaseline="central" fontSize={11.3} fontWeight="bold" {...txt}>Diagramme des ensembles GEFS sur 384h : 39.9N 0.1W</text>
        <text x={30} y={692} dominantBaseline="central" fontSize={9.7} {...txt}>Température 2m (°C) , précipitations (mm)</text>
        <text x={450} y={672} dominantBaseline="central" fontSize={10} {...txt}>Ensemble GEFS du 25/08/2026 - 06Z</text>
        <text x={450} y={691} dominantBaseline="central" fontSize={11.5} fontWeight="bold" {...txt}>Copyright 2026 Meteociel.fr</text>
      </svg>
    </div>
  )
}
